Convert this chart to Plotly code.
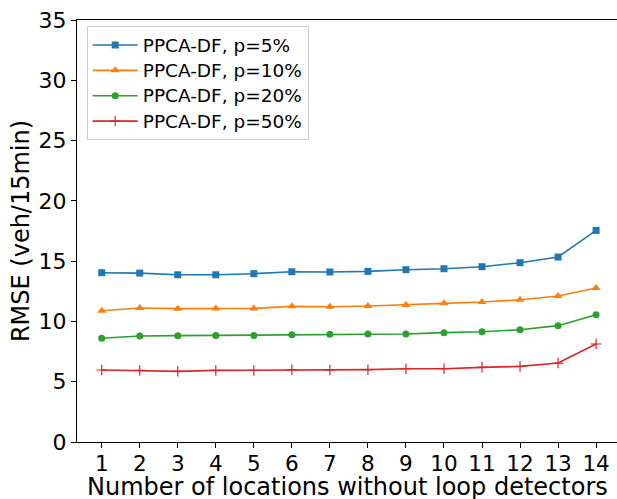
import plotly.graph_objects as go

locations = list(range(1, 15))
series_names = ["PPCA-DF, p=5%", "PPCA-DF, p=10%", "PPCA-DF, p=20%", "PPCA-DF, p=50%"]
rmse_p5 = [14.04, 14.01, 13.87, 13.87, 13.96, 14.12, 14.10, 14.15, 14.29, 14.37, 14.54, 14.87, 15.34, 17.55]
rmse_p10 = [10.89, 11.11, 11.06, 11.08, 11.08, 11.25, 11.22, 11.28, 11.36, 11.50, 11.61, 11.80, 12.11, 12.77]
rmse_p20 = [8.60, 8.79, 8.82, 8.84, 8.84, 8.90, 8.93, 8.96, 8.96, 9.07, 9.15, 9.31, 9.65, 10.56]
rmse_p50 = [5.97, 5.94, 5.86, 5.94, 5.94, 6.00, 5.97, 6.00, 6.08, 6.08, 6.19, 6.27, 6.55, 8.13]
y_ticks = [0, 5, 10, 15, 20, 25, 30, 35]

colors = ["#1f77b4", "#ff7f0e", "#2ca02c", "#d62728"]
symbols = ["square", "triangle-up", "circle", "cross-thin"]
sizes = [7, 8, 7, 7.5]

fig = go.Figure()
for i, (name, vals) in enumerate(zip(series_names, [rmse_p5, rmse_p10, rmse_p20, rmse_p50])):
    marker = dict(symbol=symbols[i], size=sizes[i], color=colors[i])
    if symbols[i] == "cross-thin":
        marker["line"] = dict(color=colors[i], width=1.2)
    fig.add_trace(go.Scatter(
        x=locations, y=vals,
        name=f'<span style="font-size:18.5px">{name}</span>',
        mode="lines+markers",
        line=dict(color=colors[i], width=1.6), marker=marker,
    ))

font_family = "DejaVu Sans"
fig.update_layout(
    width=617, height=499,
    margin=dict(l=77, r=0, t=20, b=57),
    paper_bgcolor="white", plot_bgcolor="white",
    font=dict(family=font_family, color="black"),
    showlegend=True,
    legend=dict(
        x=0.018, y=0.985, xanchor="left", yanchor="top",
        font=dict(family=font_family, size=17.2, color="black"),
        bgcolor="rgba(255,255,255,0.8)", bordercolor="#cccccc", borderwidth=1,
        tracegroupgap=0, itemwidth=45,
    ),
    xaxis=dict(
        range=[0.35, 14.55], tickmode="array", tickvals=locations,
        ticktext=[str(v) for v in locations],
        showgrid=False, zeroline=False, showline=True, linecolor="black", linewidth=1,
        mirror=True, ticks="outside", ticklen=5, tickcolor="black",
        tickfont=dict(size=21.5, family=font_family, color="black"),
        ticklabelstandoff=-3,
    ),
    yaxis=dict(
        range=[0, 35], tickmode="array", tickvals=y_ticks,
        showgrid=False, zeroline=False, showline=True, linecolor="black", linewidth=1,
        ticks="outside", ticklen=5, tickcolor="black",
        tickfont=dict(size=22, family=font_family, color="black"),
        title=dict(text="RMSE (veh/15min)",
                   font=dict(size=24, family=font_family, color="black"), standoff=2),
    ),
    annotations=[dict(
        text="Number of locations without loop detectors",
        xref="paper", yref="paper", x=0.5, y=-0.106,
        xanchor="center", yanchor="middle", showarrow=False,
        font=dict(size=24, family=font_family, color="black"),
    )],
)
fig.write_html("out.html", post_script="document.body.style.margin='0';",
               config={"displayModeBar": False})
